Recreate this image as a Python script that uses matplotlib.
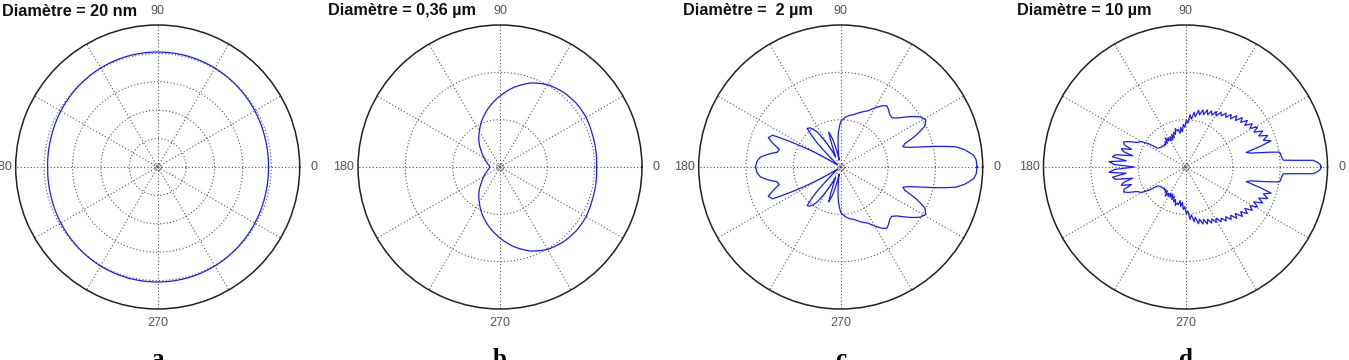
import numpy as np
import matplotlib.pyplot as plt

plt.rcParams['font.family'] = ['Liberation Sans', 'DejaVu Sans']

# scattering patterns, upper half only (0..180 deg); the lower half is the mirror image
ang_a = [0, 15, 30, 45, 60, 75, 90, 105, 120, 135, 150, 165, 180]
r_a = [0.78, 0.783, 0.79, 0.798, 0.805, 0.809, 0.81, 0.809, 0.805, 0.797, 0.788, 0.779, 0.775]

ang_b = [0, 10, 20, 30, 40, 50, 60, 70, 80, 90, 100, 110, 120, 130, 140, 150, 160, 170, 180]
r_b = [0.68, 0.685, 0.69, 0.70, 0.70, 0.69, 0.67, 0.63, 0.57, 0.50, 0.43, 0.36, 0.29, 0.23,
       0.17, 0.13, 0.10, 0.08, 0.07]

ang_c = [0, 3, 5, 8, 10, 12, 14, 16, 18, 20, 23, 26, 29, 32, 35, 38, 41, 44, 47, 50, 53, 56,
         60, 64, 68, 72, 76, 80, 85, 90, 94, 98, 102, 106, 109, 112, 116, 120, 124, 128, 131,
         134, 137, 142, 148, 152, 155, 158, 161, 164, 167, 170, 173, 176, 180]
r_c = [0.96, 0.955, 0.94, 0.88, 0.82, 0.70, 0.58, 0.50, 0.46, 0.48, 0.58, 0.66, 0.685, 0.665,
       0.62, 0.57, 0.525, 0.50, 0.505, 0.525, 0.54, 0.52, 0.48, 0.44, 0.42, 0.40, 0.38, 0.37,
       0.35, 0.32, 0.24, 0.12, 0.05, 0.20, 0.26, 0.15, 0.08, 0.18, 0.30, 0.35, 0.36, 0.25,
       0.10, 0.03, 0.04, 0.30, 0.53, 0.55, 0.50, 0.45, 0.46, 0.52, 0.57, 0.59, 0.60]

ang_d = [0, 1, 2, 3, 3.5, 4, 6, 8, 9, 10, 12, 13.5, 15.5,
         17, 19, 21, 23, 25, 27, 29, 31, 33, 35, 37, 39, 41, 43, 45, 47, 49, 51, 53, 55,
         57, 59, 61, 63, 65, 67, 69, 71, 73, 75, 77, 79, 81, 83, 85, 87, 89, 91, 93, 95,
         97, 99, 101, 103, 105, 107, 109, 111, 113, 115, 117, 119, 121, 123, 125, 127, 129,
         131, 133, 135, 138, 141, 144, 146, 147.5, 150, 153, 156,
         158, 160, 162, 164, 166, 168, 170, 172, 174, 176, 178, 180]
r_d = [0.955, 0.95, 0.93, 0.90, 0.77, 0.69, 0.68, 0.675, 0.67, 0.60, 0.47, 0.44, 0.55,
       0.63, 0.58, 0.62, 0.56, 0.60, 0.54, 0.58, 0.53, 0.56, 0.51,
       0.545, 0.50, 0.53, 0.48, 0.51, 0.465, 0.49, 0.45, 0.475, 0.44,
       0.46, 0.42, 0.445, 0.41, 0.435, 0.40, 0.43, 0.39, 0.42, 0.38,
       0.41, 0.36, 0.39, 0.34, 0.37, 0.31, 0.33, 0.28, 0.30, 0.25,
       0.28, 0.24, 0.27, 0.26, 0.28, 0.24, 0.26, 0.22, 0.25, 0.21,
       0.24, 0.21, 0.24, 0.22, 0.25, 0.21, 0.23, 0.21, 0.22, 0.21,
       0.22, 0.22, 0.23, 0.24, 0.30, 0.36, 0.38, 0.44,
       0.47, 0.46, 0.40, 0.47, 0.45, 0.38, 0.50, 0.52, 0.42, 0.54, 0.50, 0.36]

titles = ['Diamètre = 20 nm', 'Diamètre = 0,36 µm', 'Diamètre =  2 µm', 'Diamètre = 10 µm']
letters = ['a', 'b', 'c', 'd']
rings = [[0.2, 0.4, 0.6, 0.8], [1 / 3, 2 / 3], [1 / 3, 2 / 3], [1 / 3, 2 / 3]]
angle_labels = [0, 90, 180, 270]

patterns = [(ang_a, r_a), (ang_b, r_b), (ang_c, r_c), (ang_d, r_d)]
smooth = [True, True, True, False]  # d is jagged, keep straight segments


def full_turn(ang, r):
    ang = np.asarray(ang, float)
    r = np.asarray(r, float)
    th = np.concatenate([ang, 360 - ang[-2::-1]])
    rr = np.concatenate([r, r[-2::-1]])
    return np.deg2rad(th), rr


W, H = 1349, 360
fig = plt.figure(figsize=(W / 100, H / 100), dpi=100)

# pixel layout of the four panels
centres_x = [157.7, 500, 840.7, 1185.5]
centre_y = 167
R = 142
title_x = [2, 328, 683, 1017]

for i, (ang, r) in enumerate(patterns):
    cx = centres_x[i]
    ax = fig.add_axes([(cx - R) / W, (H - centre_y - R) / H, 2 * R / W, 2 * R / H],
                      projection='polar')
    th, rr = full_turn(ang, r)
    ln, = ax.plot(th, rr, color='#1a1aff', lw=0.9)
    if smooth[i]:
        ln.get_path()._interpolation_steps = 12  # draw segments as curves in polar space
    ax.plot(0, 0, 'o', ms=4, mfc='none', mec='#777777', mew=0.7)

    ax.set_ylim(0, 1)
    ax.set_rticks(rings[i])
    ax.set_yticklabels([])
    ax.set_thetagrids(range(0, 360, 30), [''] * 12)
    ax.grid(True, linestyle=(0, (1, 2)), color='#555555', lw=0.8)
    ax.spines['polar'].set_color('#222222')
    ax.spines['polar'].set_linewidth(1.1)
    for a in angle_labels:
        ax.text(np.deg2rad(a), 1.1, str(a), ha='center', va='center', fontsize=9,
                color='#555555', clip_on=False)

    fig.text(title_x[i] / W, 1 - 11 / H, titles[i], ha='left', va='center',
             fontsize=11.7, fontweight='bold', color='#111111')
    fig.text(cx / W, -6 / H, letters[i], ha='center', va='baseline', fontsize=18,
             fontweight='bold', family='Liberation Serif')

fig.savefig('out.png', dpi=100)
